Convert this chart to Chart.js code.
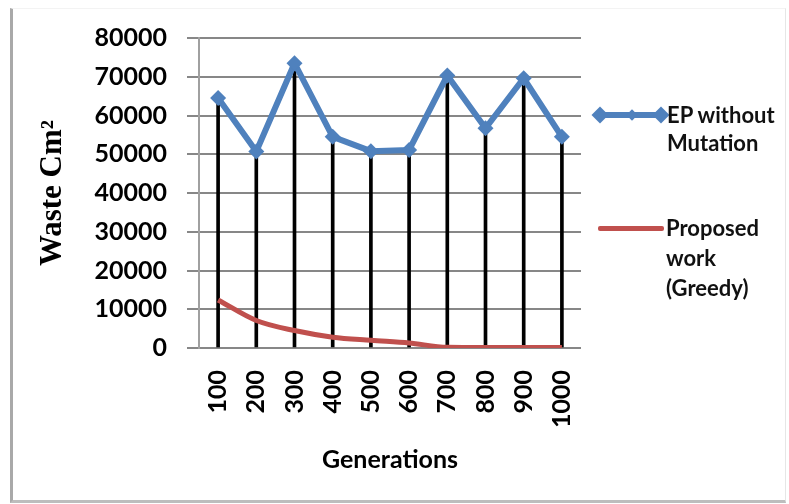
<!DOCTYPE html>
<html>
<head>
<meta charset="utf-8">
<script src="https://cdn.jsdelivr.net/npm/chart.js@4/dist/chart.umd.min.js"></script>
<style>
  body { margin: 0; background: #fff; }
  #wrap { position: relative; width: 789px; height: 504px; overflow: hidden; }
  #frame { position: absolute; left: 10px; top: 8px; width: 772px; height: 491px;
           border-left: 3px solid #a9a9a9; border-bottom: 3px solid #bdbdbd;
           border-right: 1px solid #e6e6e6; border-top: 1px solid #f3f3f3; }
  canvas { position: absolute; left: 0; top: 0; }
  .leg { position: absolute; font: bold 22px Lato, sans-serif; color: #111; }
  .ln { position: absolute; }
  .dm { position: absolute; background: #4f81bd; transform: rotate(45deg); }
</style>
</head>
<body>
<div id="wrap">
  <div id="frame"></div>
  <canvas id="chart" width="789" height="504"></canvas>
  <div class="ln" style="left:596px;top:112px;width:66px;height:6px;background:#4f81bd"></div>
  <div class="dm" style="left:594px;top:109px;width:12px;height:12px"></div>
  <div class="dm" style="left:628px;top:111px;width:8px;height:8px"></div>
  <div class="dm" style="left:655px;top:109px;width:12px;height:12px"></div>
  <div class="leg" style="left:667px;top:101px;line-height:28px">EP without<br>Mutation</div>
  <div class="ln" style="left:598px;top:226px;width:66px;height:5px;background:#c0504d;border-radius:2px"></div>
  <div class="leg" style="left:666px;top:213px;line-height:30px">Proposed<br>work<br>(Greedy)</div>
</div>
<script>
const generations = ["100", "200", "300", "400", "500", "600", "700", "800", "900", "1000"];
const epWithoutMutation = [64500, 50700, 73500, 54500, 50800, 51100, 70300, 56700, 69600, 54500];
const proposedGreedy = [12400, 7100, 4500, 2800, 2000, 1300, 200, 150, 150, 100];
const yTicks = [0, 10000, 20000, 30000, 40000, 50000, 60000, 70000, 80000];

const tickFont = { family: "Lato", size: 25, weight: "bold" };

new Chart(document.getElementById("chart"), {
  type: "bar",
  data: {
    labels: generations,
    datasets: [
      {
        type: "line",
        label: "EP without Mutation",
        data: epWithoutMutation,
        borderColor: "#4f81bd",
        backgroundColor: "#4f81bd",
        borderWidth: 6,
        pointStyle: "rectRot",
        pointRadius: 8,
        pointBorderWidth: 0,
        tension: 0,
        order: 1
      },
      {
        type: "line",
        label: "Proposed work (Greedy)",
        data: proposedGreedy,
        borderColor: "#c0504d",
        borderWidth: 5,
        pointRadius: 0,
        cubicInterpolationMode: "monotone",
        order: 2
      },
      {
        // drop lines under the blue series
        label: "drop",
        data: epWithoutMutation,
        backgroundColor: "#000",
        barThickness: 3,
        order: 3
      }
    ]
  },
  options: {
    responsive: false,
    animation: false,
    layout: { padding: { left: 0, right: 208, top: 38, bottom: 0 } },
    plugins: { legend: { display: false }, tooltip: { enabled: false } },
    scales: {
      x: {
        offset: true,
        grid: { display: false, drawTicks: false },
        border: { display: false },
        ticks: { color: "#000", font: tickFont, maxRotation: 90, minRotation: 90, padding: 22 },
        title: {
          display: true, text: "Generations", color: "#000",
          font: { family: "Lato", size: 25, weight: "bold" },
          padding: { top: 0, bottom: 29 }
        },
        afterFit: s => { s.height = 156; }
      },
      y: {
        min: 0,
        max: 80000,
        afterBuildTicks: s => { s.ticks = yTicks.map(v => ({ value: v })); },
        grid: { color: "#878787", lineWidth: 2, tickLength: 12 },
        border: { display: true, color: "#a0a0a0", width: 2 },
        ticks: { color: "#000", font: tickFont, padding: 20, callback: v => String(v) },
        title: {
          display: true, text: "Waste Cm²", color: "#000",
          font: { family: "Liberation Serif", size: 31, weight: "bold" },
          padding: { top: 34, bottom: 0 }
        },
        afterFit: s => { s.width = 199; }
      }
    }
  }
});
</script>
</body>
</html>
